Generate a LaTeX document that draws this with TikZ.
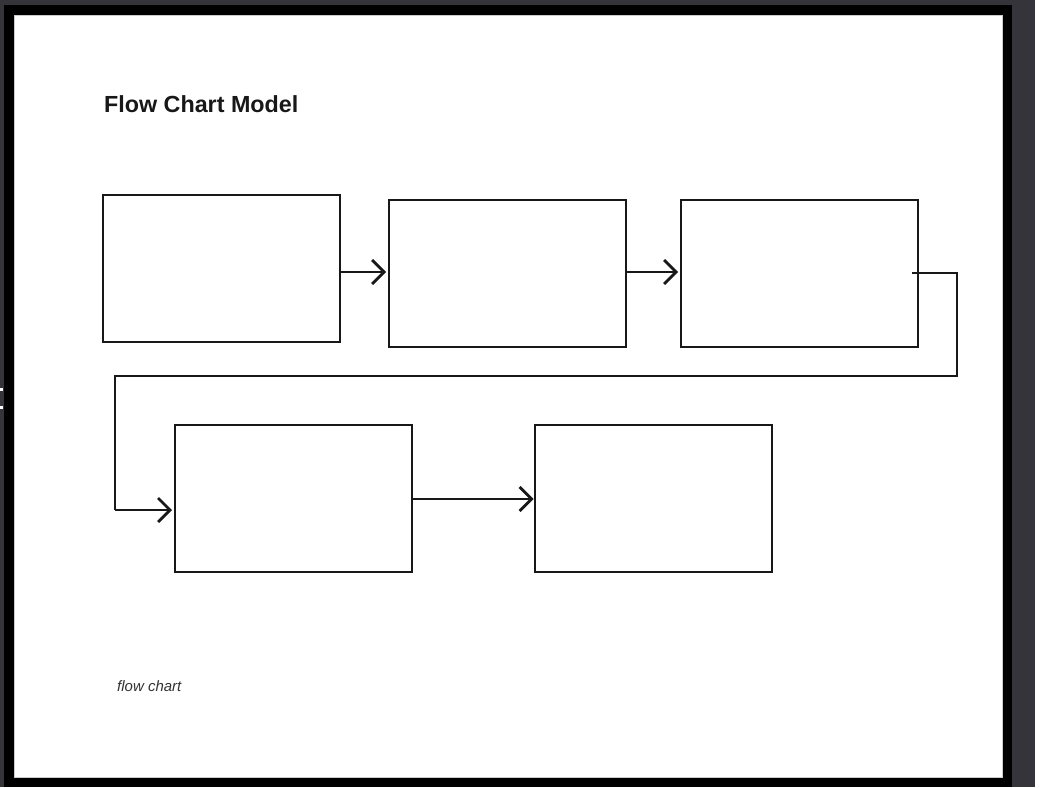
\documentclass[tikz,border=0pt]{standalone}
\usepackage{fontspec}
\setmainfont{Liberation Sans}
\usetikzlibrary{arrows.meta}
\definecolor{deskgray}{RGB}{53,52,58}
\definecolor{ink}{RGB}{24,24,24}
\begin{document}
\begin{tikzpicture}[x=1pt,y=-1pt,
  fcbox/.style={draw=ink,line width=2.8pt,minimum width=237pt,minimum height=147pt,inner sep=0pt,outer sep=0pt},
  arr/.style={draw=ink,line width=2.8pt,-{Straight Barb[length=12pt,width=24pt]}},
  conn/.style={draw=ink,line width=2.5pt}]
\useasboundingbox (0,0) rectangle (1040,787);
% background / frame
\fill[deskgray] (0,0) rectangle (1040,787);
\fill[white] (1035,0) rectangle (1040,787);
\fill[black] (4,5) rectangle (1012,787);
\fill[white] (14,15) rectangle (1003,778);
\draw[gray!40,line width=0.8pt] (14.4,15.4) rectangle (1002.6,777.6);
\fill[white] (0,388) rectangle (2.5,391);
\fill[white] (0,406) rectangle (2.5,409);
% title and caption
\node[anchor=base west,inner sep=0pt,font=\bfseries\fontsize{23.3}{27}\selectfont,text=ink] (title) at (104,112) {Flow Chart Model};
\node[anchor=base west,inner sep=0pt,font=\itshape\fontsize{15}{18}\selectfont,text=black!80] (cap) at (117,691) {flow chart};
% boxes
\node[fcbox] (b1) at (221.5,268.5) {};
\node[fcbox] (b2) at (507.5,273.5) {};
\node[fcbox] (b3) at (799.5,273.5) {};
\node[fcbox] (b4) at (293.5,498.5) {};
\node[fcbox] (b5) at (653.5,498.5) {};
% connectors
\draw[arr,shorten >=3pt] (b1.east |- 0,272) -- (b2.west |- 0,272);
\draw[arr,shorten >=3pt] (b2.east |- 0,272) -- (b3.west |- 0,272);
\coordinate (s3) at ([xshift=-6pt]b3.east |- 0,273);
\coordinate (c1) at (957,273);
\coordinate (c2) at (957,376);
\coordinate (c3) at (115,376);
\coordinate (c4) at (115,510);
\draw[conn] (s3) -- (c1) -- (c2) -- (c3) -- (c4);
\draw[arr,shorten >=3pt] (c4) -- (b4.west |- 0,510);
\draw[arr,shorten >=1.5pt] (b4.east |- 0,499) -- (b5.west |- 0,499);
\end{tikzpicture}
\end{document}
